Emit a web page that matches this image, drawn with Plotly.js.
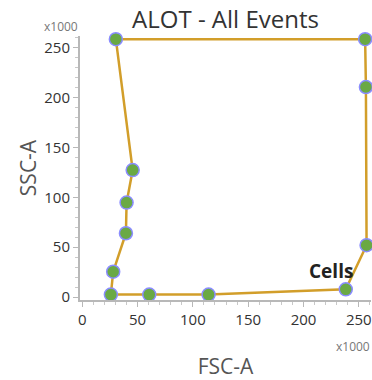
<!DOCTYPE html>
<html>
<head>
<meta charset="utf-8">
<script src="https://cdn.plot.ly/plotly-3.0.1.min.js"></script>
<style>html,body{margin:0;padding:0;background:#fff;}#chart{width:372px;height:380px;}</style>
</head>
<body>
<div id="chart"></div>
<script>
// Gate vertices (FSC-A, SSC-A) in units of x1000
var gateX = [30.4, 255.7, 256.4, 257.0, 238.2, 114.2, 60.6, 25.9, 28.0, 39.5, 40.1, 45.6];
var gateY = [258.8, 258.8, 210.8, 52.0, 7.7, 2.4, 2.4, 2.4, 25.4, 64.0, 94.8, 127.4];
var gateName = "Cells";
var xTickVals = [0, 50, 100, 150, 200, 250];
var yTickVals = [0, 50, 100, 150, 200, 250];

var FONT = "Segoe UI, Open Sans, Noto Sans, sans-serif";

var closedX = gateX.concat([gateX[0]]);
var closedY = gateY.concat([gateY[0]]);

var traces = [
  {
    x: closedX, y: closedY, type: "scatter", mode: "lines",
    line: {color: "#D29E2A", width: 2.5}, hoverinfo: "skip", showlegend: false, cliponaxis: false
  },
  {
    x: gateX, y: gateY, type: "scatter", mode: "markers",
    marker: {size: 13, color: "#6aa944", line: {color: "#8a8cff", width: 1.5}},
    showlegend: false, cliponaxis: false
  }
];

var axisCommon = {
  showgrid: false, zeroline: false, showline: true, linecolor: "#b8b8b8", linewidth: 2,
  ticks: "outside", ticklen: 5, tickwidth: 1, tickcolor: "#b8b8b8",
  tickfont: {family: FONT, size: 15, color: "#333"},
  minor: {dtick: 10, ticks: "outside", ticklen: 3, tickcolor: "#c8c8c8", tickwidth: 1}
};

var layout = {
  width: 372, height: 380,
  margin: {l: 80, r: 1, t: 36, b: 80},
  paper_bgcolor: "#fff", plot_bgcolor: "#fff",
  title: {text: "ALOT - All Events", font: {family: FONT, size: 24, color: "#333"},
          xref: "paper", x: 0.5, xanchor: "center", yref: "container", y: 0.948, yanchor: "middle"},
  xaxis: Object.assign({}, axisCommon, {
    range: [-2, 261], tickvals: xTickVals,
    title: {text: "FSC-A", font: {family: FONT, size: 21, color: "#555"}, standoff: 31}
  }),
  yaxis: Object.assign({}, axisCommon, {
    range: [-3, 262], tickvals: yTickVals,
    title: {text: "SSC-A", font: {family: FONT, size: 21, color: "#555"}, standoff: 2}
  }),
  annotations: [
    {text: "x1000", xref: "paper", yref: "paper", x: 0, y: 1, xanchor: "right", yanchor: "bottom",
     xshift: 0, yshift: -1, showarrow: false, font: {family: FONT, size: 12, color: "#777"}},
    {text: "x1000", xref: "paper", yref: "paper", x: 1, y: 0, xanchor: "right", yanchor: "top",
     xshift: 1, yshift: -36, showarrow: false, font: {family: FONT, size: 12, color: "#777"}},
    {text: "<b>" + gateName + "</b>", x: gateX[4], y: gateY[4], xref: "x", yref: "y",
     xanchor: "right", yanchor: "bottom", xshift: 9, yshift: 3, showarrow: false,
     font: {family: FONT, size: 19, color: "#222"}}
  ]
};

Plotly.newPlot("chart", traces, layout, {displayModeBar: false, staticPlot: true});
</script>
</body>
</html>
